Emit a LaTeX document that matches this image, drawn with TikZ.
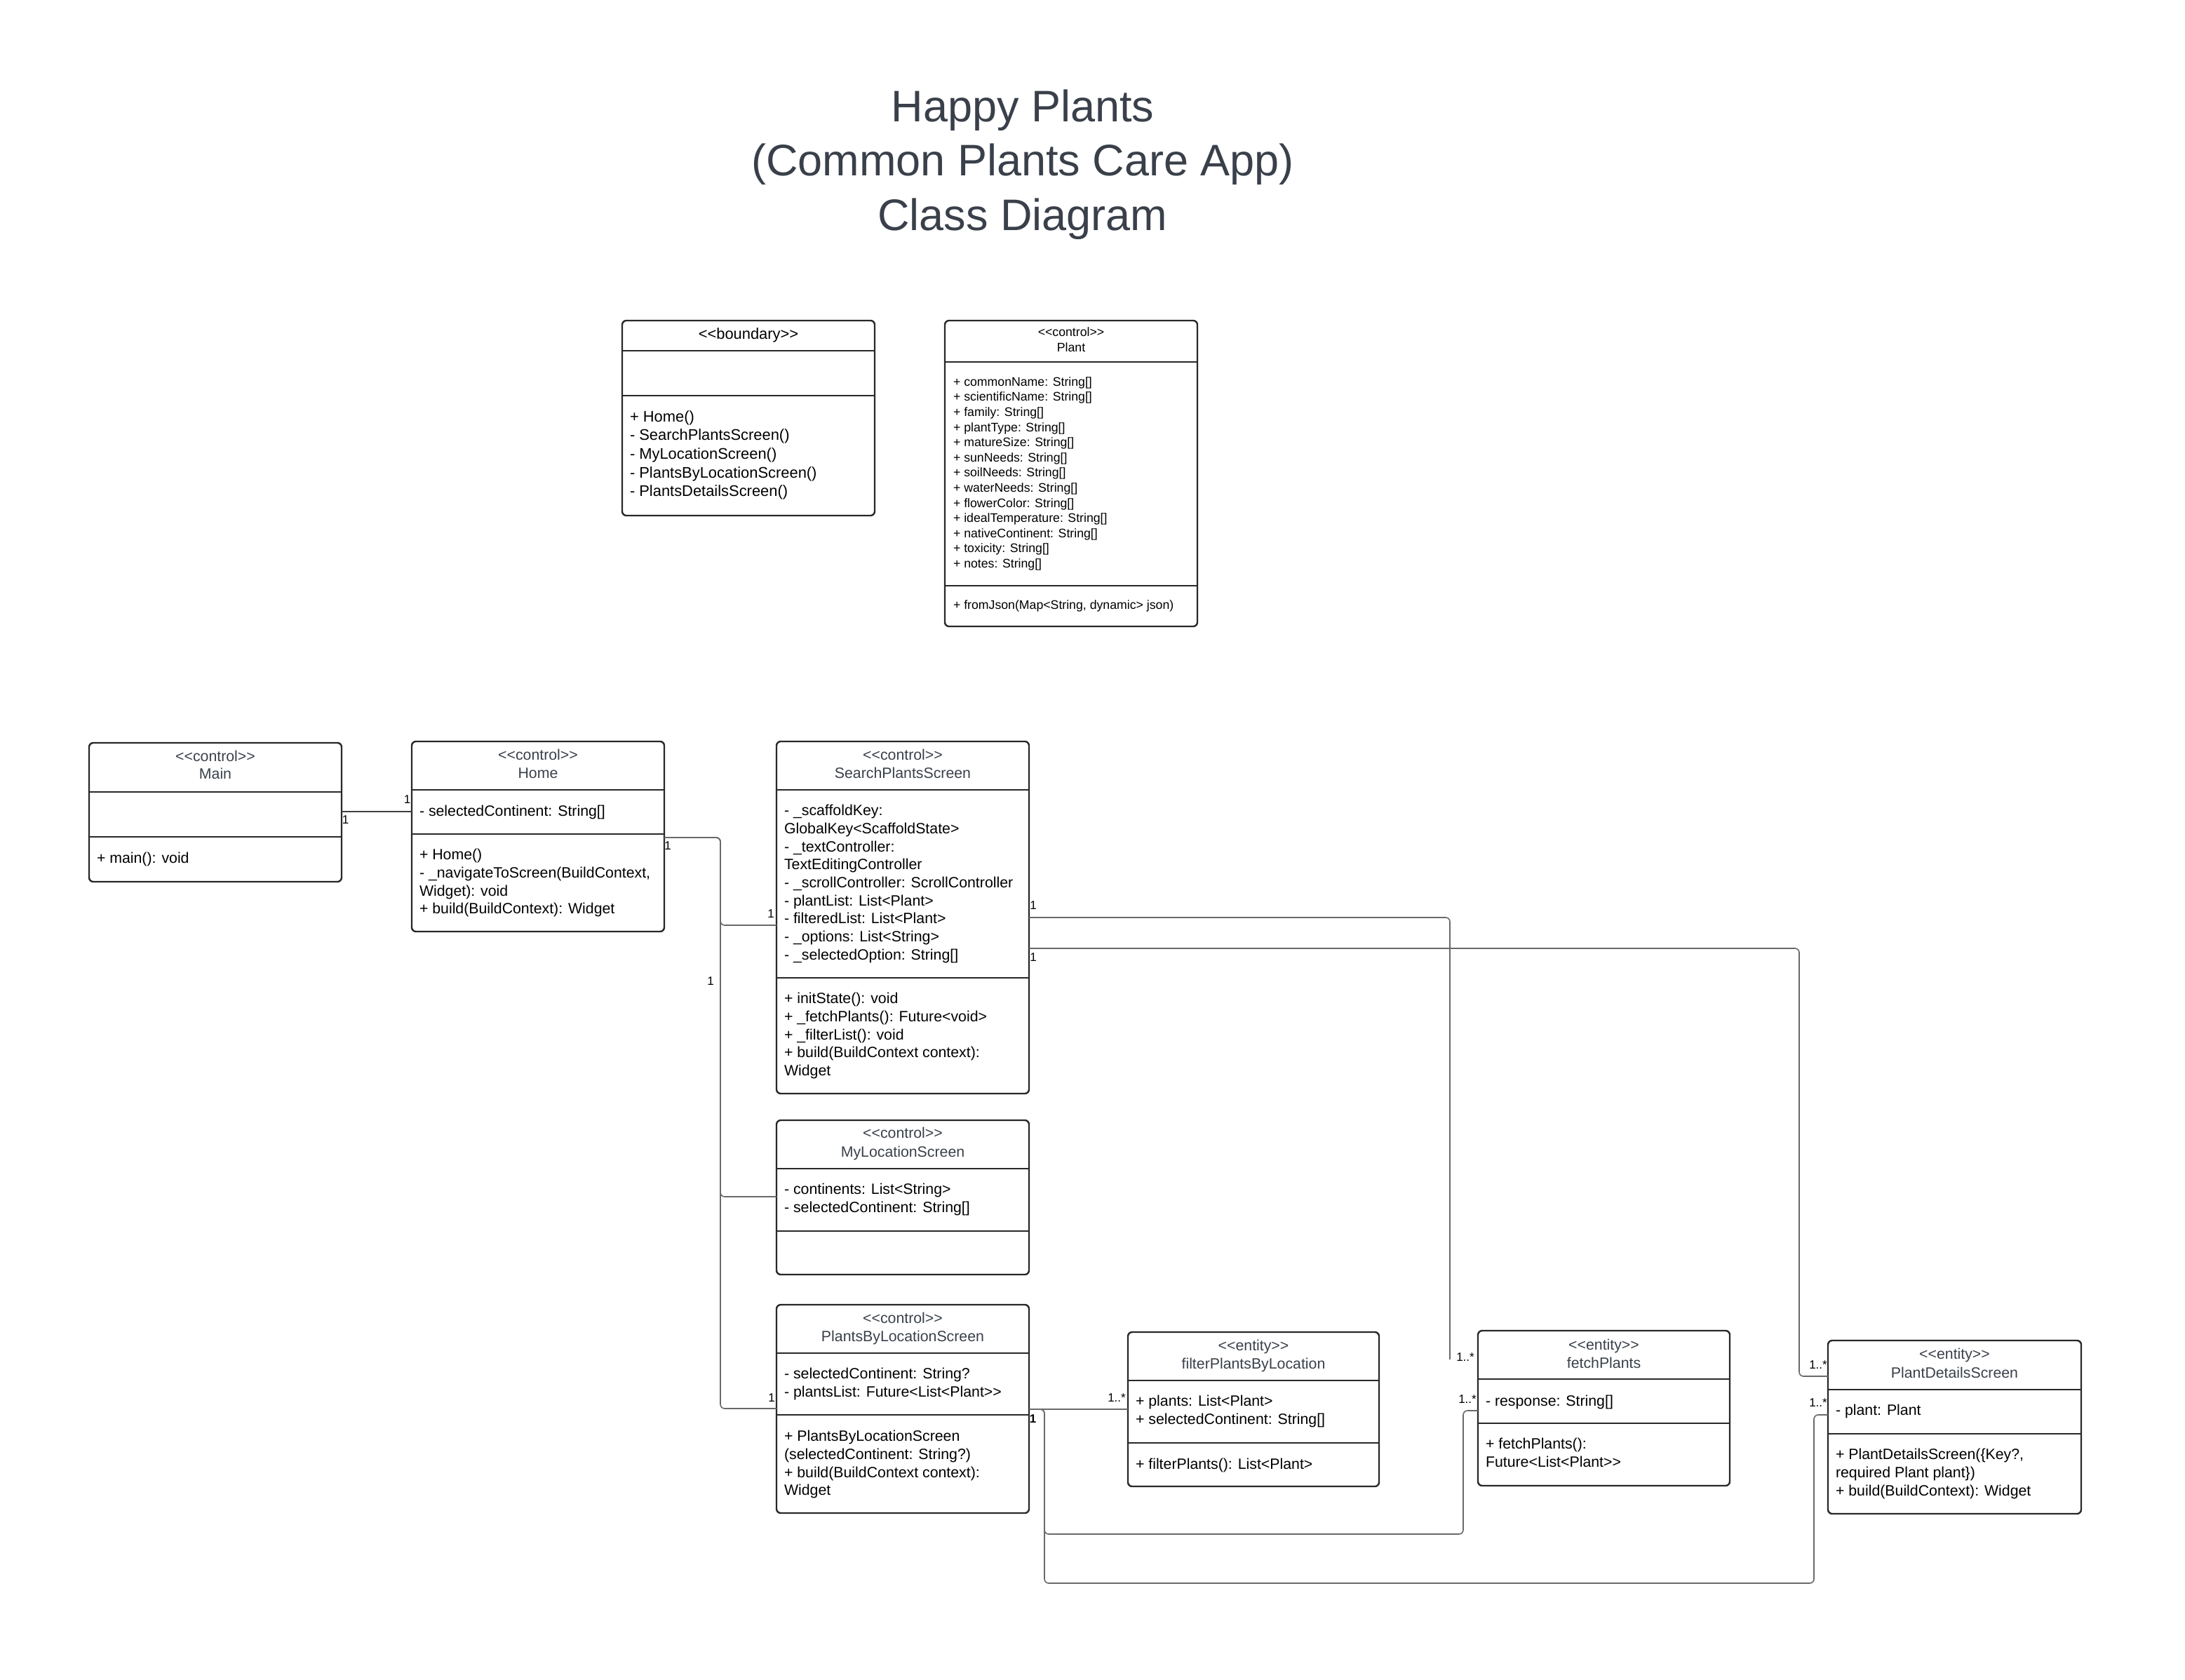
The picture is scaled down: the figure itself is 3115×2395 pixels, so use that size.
\documentclass[tikz,border=0pt]{standalone}
\usepackage{fontspec}
\setmainfont{Liberation Sans}
\definecolor{hdr}{RGB}{58,64,74}
\definecolor{boxc}{RGB}{40,40,40}
\definecolor{connc}{RGB}{105,105,105}
\newcommand{\stereo}[1]{<\kern0pt<#1>\kern0pt>}
\newcommand{\gtgt}{>\kern0pt>}
\tikzset{
  umlbox/.style={draw=boxc, line width=2.4pt, rounded corners=6pt, inner sep=0pt, outer sep=0pt, fill=white, anchor=north west},
  sepline/.style={draw=boxc, line width=2.4pt},
  conn/.style={draw=connc, line width=1.6pt, rounded corners=6pt},
  txt/.style={inner sep=0pt, outer sep=0pt, font=\fontsize{21.3}{25.7}\selectfont, text=black, anchor=base west},
  htxt/.style={inner sep=0pt, outer sep=0pt, font=\fontsize{21.3}{25.7}\selectfont, text=hdr, anchor=base},
  ptxt/.style={inner sep=0pt, outer sep=0pt, font=\fontsize{17.7}{21.58}\selectfont, text=black, anchor=base west},
  phtxt/.style={inner sep=0pt, outer sep=0pt, font=\fontsize{17.7}{21.58}\selectfont, text=black, anchor=base},
  btxt/.style={inner sep=0pt, outer sep=0pt, font=\fontsize{21.9}{26.7}\selectfont, text=black, anchor=base west},
  bhtxt/.style={inner sep=0pt, outer sep=0pt, font=\fontsize{21.9}{26.7}\selectfont, text=black, anchor=base},
  mult/.style={inner sep=0pt, outer sep=0pt, font=\fontsize{17}{20}\selectfont, text=black},
  ttl/.style={inner sep=0pt, outer sep=0pt, font=\fontsize{63}{77.5}\selectfont, text=hdr, anchor=base},
}
\newcommand{\sepat}[2]{\draw[sepline] (#1.west |- 0,#2) -- (#1.east |- 0,#2);}
\begin{document}
\begin{tikzpicture}[x=1pt,y=-1pt]
\useasboundingbox[fill=white] (0,0) rectangle (3115,2395);

% ---------- title ----------
\node[ttl] (title1) at (1458,173) {Happy Plants};
\node[ttl] (title2) at (1458,250.5) {(Common Plants Care App)};
\node[ttl] (title3) at (1458,328) {Class Diagram};

% ---------- named coordinates for connector bends ----------
\coordinate (trunk) at (1027,1194);
\coordinate (fpEnd) at (2067,1938);
\coordinate (pdsTurn) at (2565,1352);
\coordinate (pbTurn) at (1489,2009);
\coordinate (fpLow) at (1489,2187);
\coordinate (fpUp) at (2086,2187);
\coordinate (pdLow) at (1489,2257);
\coordinate (pdUp) at (2586,2257);

% ---------- boxes ----------
\node[umlbox, minimum width=360pt, minimum height=278pt] (bnd) at (887,457) {};
\node[umlbox, minimum width=360pt, minimum height=436pt] (plant) at (1347,457) {};
\node[umlbox, minimum width=360pt, minimum height=198pt] (main) at (127,1059) {};
\node[umlbox, minimum width=360pt, minimum height=271pt] (home) at (587,1057) {};
\node[umlbox, minimum width=360pt, minimum height=502pt] (sps) at (1107,1057) {};
\node[umlbox, minimum width=360pt, minimum height=220pt] (mls) at (1107,1597) {};
\node[umlbox, minimum width=360pt, minimum height=297pt] (pbls) at (1107,1860) {};
\node[umlbox, minimum width=358pt, minimum height=220pt] (fpbl) at (1608,1899) {};
\node[umlbox, minimum width=359pt, minimum height=221pt] (fetch) at (2107,1897) {};
\node[umlbox, minimum width=361pt, minimum height=247pt] (pds) at (2606,1911) {};

% ---------- connectors ----------
\draw[conn, draw=black!75] (main.east |- 0,1157) -- (home.west |- 0,1157);
\draw[conn] (home.east |- trunk) -- (trunk) |- (sps.west |- 0,1319);
\draw[conn] (home.east |- trunk) -- (trunk) |- (mls.west |- 0,1706);
\draw[conn] (home.east |- trunk) -- (trunk) |- (pbls.west |- 0,2008);
\draw[conn] (sps.east |- 0,1308) -| (fpEnd);
\draw[conn] (sps.east |- 0,1352) -- (pdsTurn) |- (pds.west |- 0,1962);
\draw[conn] (pbls.east |- 0,2009) -- (fpbl.west |- 0,2009);
\draw[conn] (pbls.east |- 0,2009) -- (pbTurn) -- (fpLow) -- (fpUp) |- (fetch.west |- 0,2011);
\draw[conn] (pbls.east |- 0,2009) -- (pbTurn) -- (pdLow) -- (pdUp) |- (pds.west |- 0,2017);

% ---------- separators ----------
\sepat{bnd}{500}\sepat{bnd}{564}
\sepat{plant}{516}\sepat{plant}{835}
\sepat{main}{1129}\sepat{main}{1193}
\sepat{home}{1126}\sepat{home}{1189}
\sepat{sps}{1126}\sepat{sps}{1394}
\sepat{mls}{1666}\sepat{mls}{1755}
\sepat{pbls}{1929}\sepat{pbls}{2017}
\sepat{fpbl}{1968}\sepat{fpbl}{2057}
\sepat{fetch}{1966}\sepat{fetch}{2029}
\sepat{pds}{1981}\sepat{pds}{2044}

% ---------- boundary ----------
\node[bhtxt] (bndH) at (1067,483) {\stereo{boundary}};
\node[btxt] (bndM) at (898,601) {\vtop{\hbox{+ Home()}\hbox{- SearchPlantsScreen()}\hbox{- MyLocationScreen()}\hbox{- PlantsByLocationScreen()}\hbox{- PlantsDetailsScreen()}}};

% ---------- Plant ----------
\node[phtxt] (plantS) at (1527,479.4) {\stereo{control}};
\node[phtxt] (plantN) at (1527,501.4) {Plant};
\node[ptxt] (plantA) at (1359,550.4) {\vtop{\hbox{+ commonName: String[]}\hbox{+ scientificName: String[]}\hbox{+ family: String[]}\hbox{+ plantType: String[]}\hbox{+ matureSize: String[]}\hbox{+ sunNeeds: String[]}\hbox{+ soilNeeds: String[]}\hbox{+ waterNeeds: String[]}\hbox{+ flowerColor: String[]}\hbox{+ idealTemperature: String[]}\hbox{+ nativeContinent: String[]}\hbox{+ toxicity: String[]}\hbox{+ notes: String[]}}};
\node[ptxt] (plantM) at (1359,868.4) {+ fromJson(Map<String, dynamic> json)};

% ---------- Main ----------
\node[htxt] (mainS) at (307,1085.7) {\stereo{control}};
\node[htxt] (mainN) at (307,1110.7) {Main};
\node[txt] (mainM) at (138,1230.7) {+ main(): void};

% ---------- Home ----------
\node[htxt] (homeS) at (767,1083.7) {\stereo{control}};
\node[htxt] (homeN) at (767,1109.7) {Home};
\node[txt] (homeA) at (598,1163.7) {- selectedContinent: String[]};
\node[txt] (homeM) at (598,1225.7) {\vtop{\hbox{+ Home()}\hbox{- \_navigateToScreen(BuildContext,}\hbox{Widget): void}\hbox{+ build(BuildContext): Widget}}};

% ---------- SearchPlantsScreen ----------
\node[htxt] (spsS) at (1287,1083.7) {\stereo{control}};
\node[htxt] (spsN) at (1287,1109.7) {SearchPlantsScreen};
\node[txt] (spsA) at (1118,1162.7) {\vtop{\hbox{- \_scaffoldKey:}\hbox{GlobalKey<ScaffoldState>}\hbox{- \_textController:}\hbox{TextEditingController}\hbox{- \_scrollController: ScrollController}\hbox{- plantList: List<Plant>}\hbox{- filteredList: List<Plant>}\hbox{- \_options: List<String>}\hbox{- \_selectedOption: String[]}}};
\node[txt] (spsM) at (1118,1430.7) {\vtop{\hbox{+ initState(): void}\hbox{+ \_fetchPlants(): Future<void>}\hbox{+ \_filterList(): void}\hbox{+ build(BuildContext context):}\hbox{Widget}}};

% ---------- MyLocationScreen ----------
\node[htxt] (mlsS) at (1287,1622.7) {\stereo{control}};
\node[htxt] (mlsN) at (1287,1649.7) {MyLocationScreen};
\node[txt] (mlsA) at (1118,1702.7) {\vtop{\hbox{- continents: List<String>}\hbox{- selectedContinent: String[]}}};

% ---------- PlantsByLocationScreen ----------
\node[htxt] (pblsS) at (1287,1886.2) {\stereo{control}};
\node[htxt] (pblsN) at (1287,1912.7) {PlantsByLocationScreen};
\node[txt] (pblsA) at (1118,1965.7) {\vtop{\hbox{- selectedContinent: String?}\hbox{- plantsList: Future<List<Plant\gtgt}}};
\node[txt] (pblsM) at (1118,2054.7) {\vtop{\hbox{+ PlantsByLocationScreen}\hbox{(selectedContinent: String?)}\hbox{+ build(BuildContext context):}\hbox{Widget}}};

% ---------- filterPlantsByLocation ----------
\node[htxt] (fpblS) at (1787,1925.7) {\stereo{entity}};
\node[htxt] (fpblN) at (1787,1951.7) {filterPlantsByLocation};
\node[txt] (fpblA) at (1619,2004.7) {\vtop{\hbox{+ plants: List<Plant>}\hbox{+ selectedContinent: String[]}}};
\node[txt] (fpblM) at (1619,2094.7) {+ filterPlants(): List<Plant>};

% ---------- fetchPlants ----------
\node[htxt] (fetchS) at (2286.5,1924.7) {\stereo{entity}};
\node[htxt] (fetchN) at (2286.5,1950.7) {fetchPlants};
\node[txt] (fetchA) at (2118,2004.7) {- response: String[]};
\node[txt] (fetchM) at (2118,2065.7) {\vtop{\hbox{+ fetchPlants():}\hbox{Future<List<Plant\gtgt}}};

% ---------- PlantDetailsScreen ----------
\node[htxt] (pdsS) at (2786.5,1937.7) {\stereo{entity}};
\node[htxt] (pdsN) at (2786.5,1964.7) {PlantDetailsScreen};
\node[txt] (pdsA) at (2617,2017.7) {- plant: Plant};
\node[txt] (pdsM) at (2617,2080.7) {\vtop{\hbox{+ PlantDetailsScreen(\{Key?,}\hbox{required Plant plant\})}\hbox{+ build(BuildContext): Widget}}};

% ---------- multiplicities ----------
\node[mult] (m1) at (492.5,1169) {1};
\node[mult] (m2) at (580.5,1140) {1};
\node[mult] (m3) at (952,1206) {1};
\node[mult] (m4) at (1013,1399) {1};
\node[mult] (m5) at (1099,1303) {1};
\node[mult] (m6) at (1100,1992.5) {1};
\node[mult] (m7) at (1473,1291) {1};
\node[mult] (m8) at (1473,1365) {1};
\node[mult] (m9) at (2089,1935) {1..*};
\node[mult] (m10) at (2092,1995) {1..*};
\node[mult] (m11) at (2592,1946) {1..*};
\node[mult] (m12) at (2592,2000) {1..*};
\node[mult, font=\fontsize{17}{20}\selectfont\bfseries] (m13) at (1472.5,2023) {1};
\node[mult] (m14) at (1592,1993) {1..*};
\end{tikzpicture}
\end{document}
